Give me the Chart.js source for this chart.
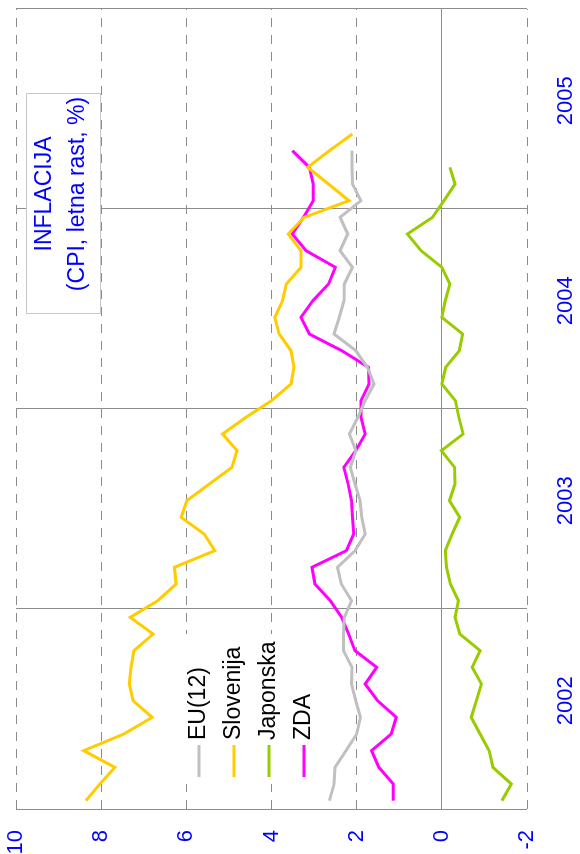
<!DOCTYPE html>
<html>
<head>
<meta charset="utf-8">
<script src="https://cdn.jsdelivr.net/npm/chart.js@4.4.0/dist/chart.umd.min.js"></script>
<style>
  html, body { margin: 0; padding: 0; background: #fff; overflow: hidden; }
  body { width: 580px; height: 854px; position: relative; }
  /* the chart is drawn lying on its side, so the canvas is rotated */
  #wrap { position: absolute; left: 0; top: 0; width: 854px; height: 580px;
          transform-origin: 0 0; transform: translate(0, 854px) rotate(-90deg); }
</style>
</head>
<body>
<div id="wrap"><canvas id="inflacija" width="854" height="580"></canvas></div>
<script>
// categories: months Jan 2002 .. Dec 2005
const years = ['2002', '2003', '2004', '2005'];
const monthNames = ['jan', 'feb', 'mar', 'apr', 'maj', 'jun', 'jul', 'avg', 'sep', 'okt', 'nov', 'dec'];
const months = years.flatMap(y => monthNames.map(m => m + ' ' + y));

const yTicks = [-2, 0, 2, 4, 6, 8, 10];

// annual inflation, %
const euData = [2.64, 2.53, 2.51, 2.25, 2.00, 1.91, 2.02, 2.12, 2.11, 2.31, 2.31, 2.29,
                2.12, 2.36, 2.45, 2.04, 1.80, 1.88, 1.92, 2.04, 2.15, 2.02, 2.17, 1.97,
                1.80, 1.59, 1.75, 2.02, 2.53, 2.41, 2.30, 2.29, 2.10, 2.39, 2.21, 2.39,
                1.90, 2.10, 2.11, 2.11];
const sloData = [8.36, 8.03, 7.68, 8.41, 7.47, 6.80, 7.25, 7.34, 7.30, 7.23, 6.78, 7.32,
                 6.67, 6.24, 6.28, 5.33, 5.58, 6.12, 5.99, 5.46, 4.93, 4.81, 5.15, 4.60,
                 4.00, 3.54, 3.47, 3.54, 3.82, 3.92, 3.74, 3.65, 3.31, 3.31, 3.61, 3.23,
                 2.18, 2.66, 3.15, 2.64, 2.10];
const japData = [-1.41, -1.63, -1.20, -1.11, -0.90, -0.69, -0.81, -0.93, -0.71, -0.90, -0.42, -0.31,
                 -0.39, -0.20, -0.11, -0.08, -0.24, -0.42, -0.18, -0.31, -0.30, 0.01, -0.50, -0.40,
                 -0.32, 0.00, -0.09, -0.41, -0.49, 0.00, -0.08, -0.19, 0.00, 0.49, 0.81, 0.22,
                 -0.05, -0.31, -0.19];
const zdaData = [1.14, 1.14, 1.48, 1.65, 1.19, 1.07, 1.51, 1.80, 1.53, 2.04, 2.19, 2.35,
                 2.62, 2.98, 3.05, 2.24, 2.07, 2.10, 2.12, 2.20, 2.30, 2.02, 1.80, 1.90,
                 1.90, 1.71, 1.72, 2.35, 3.11, 3.31, 3.03, 2.66, 2.50, 3.19, 3.51, 3.25,
                 3.02, 3.02, 3.11, 3.51];

const FONT = "'Liberation Sans', Arial, sans-serif";
const GRID = '#8c8c8c';
const BLUE = '#0000ff';

Chart.defaults.font.family = FONT;

// legend and the title box are placed inside the plot, like in the original
const boxesPlugin = {
    id: 'boxes',
    afterDraw(chart) {
        const ctx = chart.ctx;
        ctx.save();

        // legend
        ctx.fillStyle = '#fff';
        ctx.fillRect(70, 178, 150, 144);
        ctx.font = '23px ' + FONT;
        ctx.textBaseline = 'middle';
        ctx.textAlign = 'left';
        chart.data.datasets.forEach(function(ds, i) {
            const y = 199 + i * 35;
            ctx.strokeStyle = ds.borderColor;
            ctx.lineWidth = 3;
            ctx.beginPath();
            ctx.moveTo(77, y);
            ctx.lineTo(109, y);
            ctx.stroke();
            ctx.fillStyle = '#000';
            ctx.fillText(ds.label, 114, y);
        });

        // title
        ctx.fillStyle = '#fff';
        ctx.fillRect(540, 26, 220, 74);
        ctx.strokeStyle = '#c8c8c8';
        ctx.lineWidth = 1;
        ctx.strokeRect(540.5, 26.5, 220, 74);
        ctx.fillStyle = BLUE;
        ctx.textAlign = 'center';
        ctx.fillText('INFLACIJA', 660, 45);
        ctx.fillText('(CPI, letna rast, %)', 660, 78);

        ctx.restore();
    }
};

function line(label, data, color) {
    return {
        label: label,
        data: data,
        borderColor: color,
        backgroundColor: color,
        borderWidth: 3,
        pointRadius: 0,
        tension: 0,
        fill: false
    };
}

new Chart(document.getElementById('inflacija'), {
    type: 'line',
    data: {
        labels: months,
        datasets: [
            line('EU(12)', euData, '#c0c0c0'),
            line('Slovenija', sloData, '#ffcc00'),
            line('Japonska', japData, '#99cc00'),
            line('ZDA', zdaData, '#ff00ff')
        ]
    },
    options: {
        responsive: false,
        animation: false,
        layout: {
            padding: { top: 16, right: 9, bottom: 0, left: 0 }
        },
        plugins: {
            legend: { display: false },
            tooltip: { enabled: false }
        },
        scales: {
            x: {
                type: 'category',
                offset: true,
                afterFit: function(scale) {
                    scale.height = 53;
                    scale.paddingLeft = 0;
                    scale.paddingRight = 0;
                },
                grid: {
                    offset: true,
                    drawTicks: false,
                    lineWidth: 1,
                    color: function(c) {
                        return (c.index === undefined || c.index % 12 === 0) ? GRID : 'rgba(0,0,0,0)';
                    }
                },
                border: { display: false, dash: [] },
                ticks: {
                    autoSkip: false,
                    maxRotation: 0,
                    minRotation: 0,
                    padding: 26,
                    color: BLUE,
                    font: { size: 22 },
                    callback: function(value, index) {
                        return index % 12 === 6 ? years[Math.floor(index / 12)] : '';
                    }
                }
            },
            y: {
                min: yTicks[0],
                max: yTicks[yTicks.length - 1],
                afterFit: function(scale) {
                    scale.width = 45;
                    scale.paddingTop = 0;
                    scale.paddingBottom = 0;
                },
                afterBuildTicks: function(scale) {
                    scale.ticks = yTicks.map(v => ({ value: v }));
                },
                grid: {
                    drawTicks: false,
                    lineWidth: 1,
                    color: GRID
                },
                border: {
                    display: false,
                    dash: function(c) {
                        return (c.tick && c.tick.value === 0) ? [] : [9, 8];
                    }
                },
                ticks: {
                    padding: 21,
                    color: BLUE,
                    font: { size: 22 }
                }
            }
        }
    },
    plugins: [boxesPlugin]
});
</script>
</body>
</html>
